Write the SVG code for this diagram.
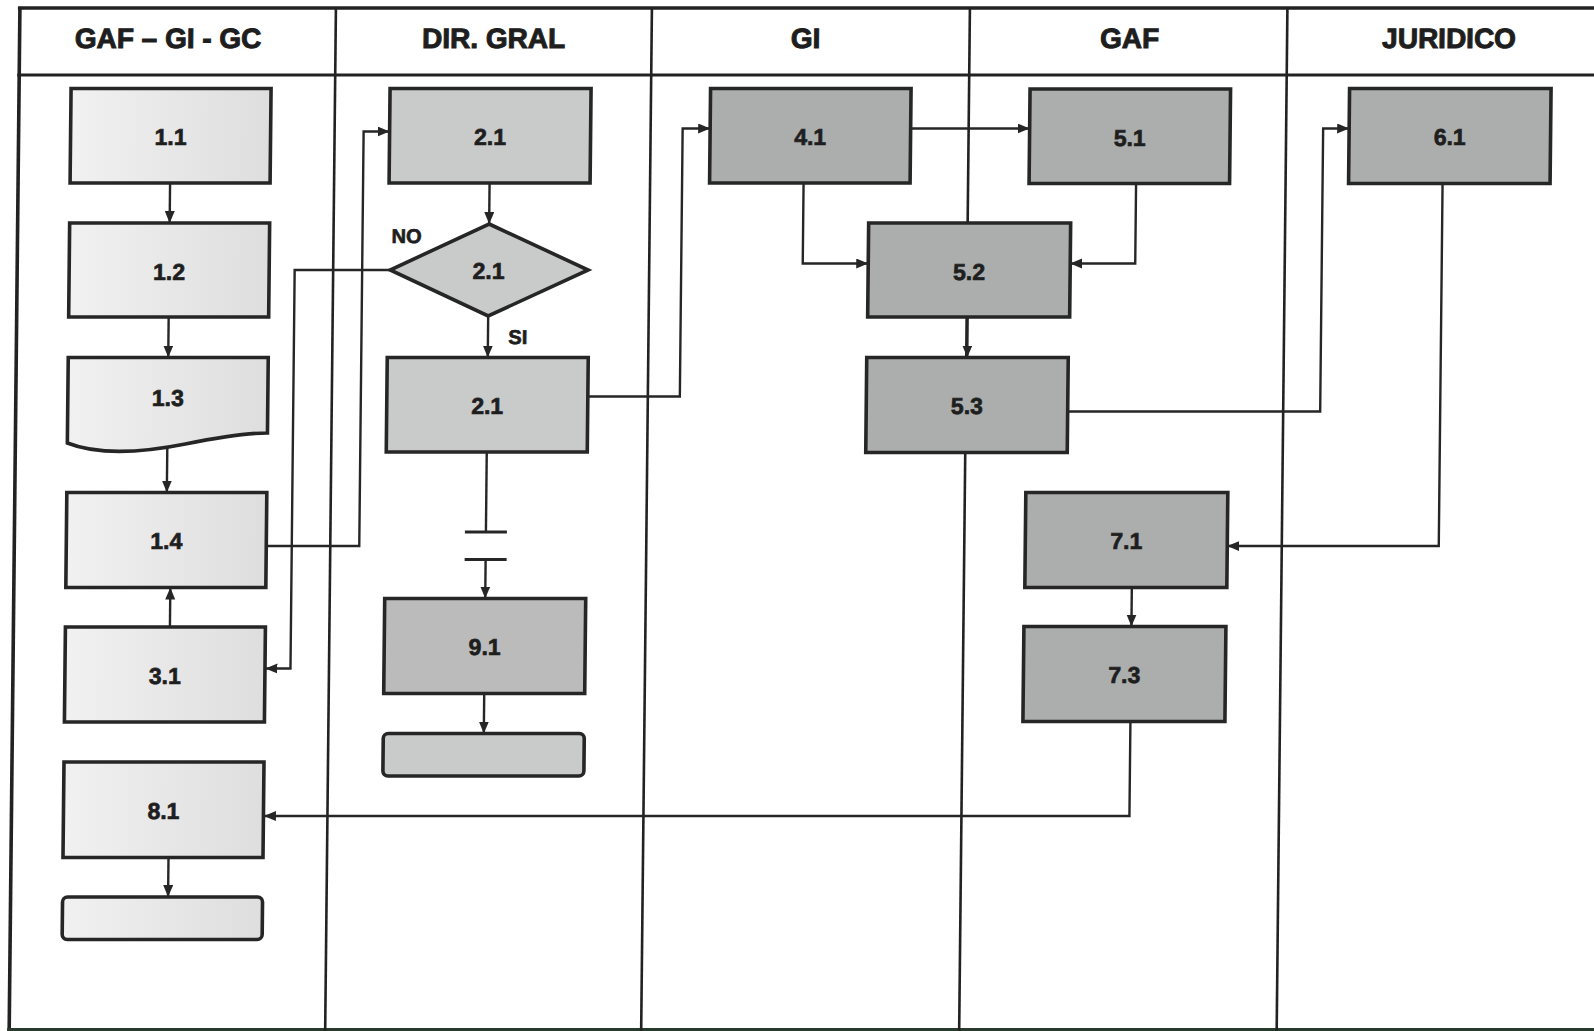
<svg xmlns="http://www.w3.org/2000/svg" width="1594" height="1031" viewBox="0 0 1594 1031">
<defs>
<style>
.frame{stroke:#222;fill:none;stroke-width:2.6}
.conn{stroke:#262626;fill:none;stroke-width:2.4}
.box{stroke:#262626;stroke-width:3.6}
.f1{fill:url(#g1)}
.f2{fill:#c9caca}
.f3{fill:#abaead}
.f9{fill:#bbbbbb}
.t{font-family:"Liberation Sans",Arial,Helvetica,sans-serif;font-weight:bold;fill:#1e1e1e;text-anchor:middle;stroke:#1e1e1e;stroke-width:0.7}
.lbl{font-size:23px}
.hdr{font-size:28px;stroke-width:1}
.yn{font-size:20px;text-anchor:start}
</style>
<linearGradient id="g1" x1="0" y1="0" x2="1" y2="0">
<stop offset="0" stop-color="#f1f1f1"/>
<stop offset="1" stop-color="#dedede"/>
</linearGradient>
<marker id="ah" markerUnits="userSpaceOnUse" markerWidth="13" markerHeight="11" refX="12" refY="5" orient="auto">
<path d="M0,0 L12,5 L0,10 z" fill="#262626"/>
</marker>
</defs>
<rect x="0" y="0" width="1594" height="1031" fill="#ffffff"/>
<g transform="matrix(1 0 -0.0105 1 0 0)">
<g id="frame">
<line class="frame" x1="18" y1="8" x2="1610" y2="8" style="stroke-width:3.6"/>
<line class="frame" x1="18" y1="75" x2="1610" y2="75" style="stroke-width:3"/>
<line class="frame" x1="20" y1="7" x2="20" y2="1031" style="stroke-width:3.6"/>
<line class="frame" x1="18" y1="1029.5" x2="1610" y2="1029.5" style="stroke-width:3;stroke:#2a3a2c"/>
<line class="frame" x1="336" y1="8" x2="336" y2="1031"/>
<line class="frame" x1="652" y1="8" x2="652" y2="1031"/>
<line class="frame" x1="970" y1="8" x2="970" y2="1031"/>
<line class="frame" x1="1287.5" y1="8" x2="1287.5" y2="1031"/>
<text class="t hdr" x="168.5" y="48">GAF – GI - GC</text>
<text class="t hdr" x="494" y="48">DIR. GRAL</text>
<text class="t hdr" x="806" y="48">GI</text>
<text class="t hdr" x="1130" y="48">GAF</text>
<text class="t hdr" x="1449.5" y="48">JURIDICO</text>
</g>
<g id="connectors">
<path class="conn" d="M172,183 V223" marker-end="url(#ah)"/>
<path class="conn" d="M172,317 V357.5" marker-end="url(#ah)"/>
<path class="conn" d="M172,448 V492.5" marker-end="url(#ah)"/>
<path class="conn" d="M176.5,627 V587.5" marker-end="url(#ah)"/>
<path class="conn" d="M272,546 H365 V131.5 H391" marker-end="url(#ah)"/>
<path class="conn" d="M393,270 H297.5 V668.5 H272.5" marker-end="url(#ah)"/>
<path class="conn" d="M491.5,183 V224" marker-end="url(#ah)"/>
<path class="conn" d="M491.5,316 V357.5" marker-end="url(#ah)"/>
<path class="conn" d="M592,396.5 H684 V128.5 H711.5" marker-end="url(#ah)"/>
<path class="conn" d="M491.5,452 V532"/>
<path class="conn" d="M470.5,532 H512.5 M470.5,559.5 H512.5" style="stroke-width:3"/>
<path class="conn" d="M491.5,559.5 V598.5" marker-end="url(#ah)"/>
<path class="conn" d="M491.5,693.5 V733.5" marker-end="url(#ah)"/>
<path class="conn" d="M911.5,128.5 H1031" marker-end="url(#ah)"/>
<path class="conn" d="M805.5,183 V263.5 H871" marker-end="url(#ah)"/>
<path class="conn" d="M1138,183.5 V263.5 H1073" marker-end="url(#ah)"/>
<path class="conn" d="M971,317 V357.5" marker-end="url(#ah)"/>
<path class="conn" d="M1072,411.5 H1324.5 V128.5 H1350.5" marker-end="url(#ah)"/>
<path class="conn" d="M1444.5,183.5 V546 H1233" marker-end="url(#ah)"/>
<path class="conn" d="M1138,587.5 V626.5" marker-end="url(#ah)"/>
<path class="conn" d="M1138,721.5 V816 H272.5" marker-end="url(#ah)"/>
<path class="conn" d="M177.5,857.5 V897" marker-end="url(#ah)"/>
</g>
<g id="n1_1"><rect class="box f1" x="72" y="88.5" width="200" height="94.5"/><text class="t lbl" x="172" y="145.5">1.1</text></g>
<g id="n1_2"><rect class="box f1" x="72" y="223" width="200" height="94"/><text class="t lbl" x="172" y="280">1.2</text></g>
<g id="n1_3"><path class="box f1" d="M72,357.5 H272 V433 C250,433 225,437 190,444 C150,452 105,456 72,443 Z"/><text class="t lbl" x="172" y="406">1.3</text></g>
<g id="n1_4"><rect class="box f1" x="72" y="492.5" width="200" height="95"/><text class="t lbl" x="172" y="549.5">1.4</text></g>
<g id="n3_1"><rect class="box f1" x="72" y="627" width="200" height="95"/><text class="t lbl" x="172" y="684.5">3.1</text></g>
<g id="n8_1"><rect class="box f1" x="72" y="762" width="200" height="95.5"/><text class="t lbl" x="172" y="819">8.1</text></g>
<g id="end1"><rect class="box f1" x="72" y="897" width="200" height="42.5" rx="5"/></g>
<g id="n2_1a"><rect class="box f2" x="391" y="88.5" width="201" height="94.5"/><text class="t lbl" x="491.5" y="145.5">2.1</text></g>
<g id="d2_1"><polygon class="box f2" points="491.5,224 591,270 491.5,316 393,270"/><text class="t lbl" x="491.5" y="279">2.1</text><text class="t yn" x="394" y="243">NO</text><text class="t yn" x="512" y="344">SI</text></g>
<g id="n2_1b"><rect class="box f2" x="391" y="357.5" width="201" height="94.5"/><text class="t lbl" x="491.5" y="414">2.1</text></g>
<g id="n9_1"><rect class="box f9" x="391" y="598.5" width="201" height="95"/><text class="t lbl" x="491.5" y="655.5">9.1</text></g>
<g id="end2"><rect class="box f2" x="391" y="733.5" width="201" height="42.5" rx="5"/></g>
<g id="n4_1"><rect class="box f3" x="711.5" y="88.5" width="200.5" height="94.5"/><text class="t lbl" x="811.7" y="145.5">4.1</text></g>
<g id="n5_1"><rect class="box f3" x="1031" y="89" width="200.5" height="94.5"/><text class="t lbl" x="1131.2" y="146">5.1</text></g>
<g id="n6_1"><rect class="box f3" x="1350.5" y="88.5" width="201.5" height="95"/><text class="t lbl" x="1451.2" y="145.5">6.1</text></g>
<g id="n5_2"><rect class="box f3" x="871" y="223" width="202" height="94"/><text class="t lbl" x="972" y="280">5.2</text></g>
<g id="n5_3"><rect class="box f3" x="870.5" y="357.5" width="201.5" height="95"/><text class="t lbl" x="971.2" y="414">5.3</text></g>
<g id="n7_1"><rect class="box f3" x="1031" y="492.5" width="202" height="95"/><text class="t lbl" x="1132" y="549.5">7.1</text></g>
<g id="n7_3"><rect class="box f3" x="1030.5" y="626.5" width="202" height="95"/><text class="t lbl" x="1131.5" y="683.5">7.3</text></g>
</g>
</svg>
